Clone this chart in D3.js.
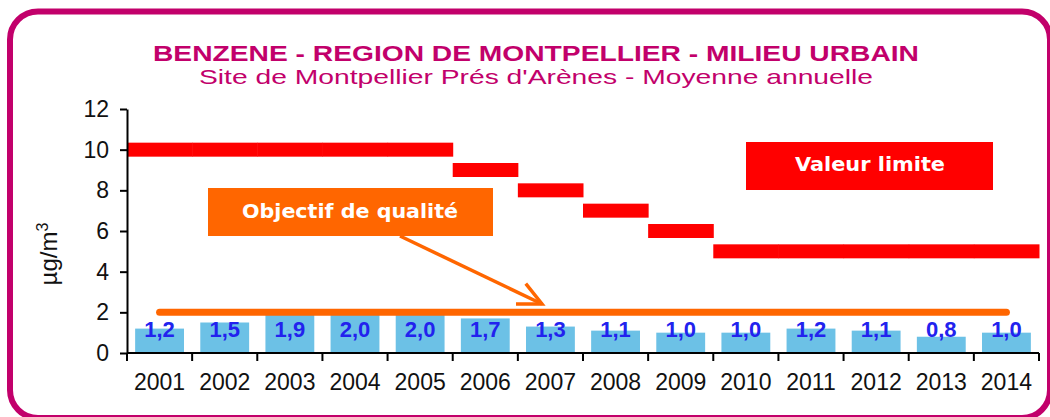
<!DOCTYPE html>
<html>
<head>
<meta charset="utf-8">
<script src="https://cdn.jsdelivr.net/npm/d3@7"></script>
<style>
  html, body { margin: 0; padding: 0; background: #fff; }
  svg { display: block; }
</style>
</head>
<body>
<div id="chart"></div>
<script>
// data
const years = ["2001", "2002", "2003", "2004", "2005", "2006", "2007",
               "2008", "2009", "2010", "2011", "2012", "2013", "2014"];
const benzene = [1.2, 1.5, 1.9, 2.0, 2.0, 1.7, 1.3, 1.1, 1.0, 1.0, 1.2, 1.1, 0.8, 1.0];
const valeurLimite = [10, 10, 10, 10, 10, 9, 8, 7, 6, 5, 5, 5, 5, 5];
const objectifQualite = 2;
const yTicks = [0, 2, 4, 6, 8, 10, 12];

const WIDTH = 1050, HEIGHT = 417;
const MAGENTA = "#c2006b";
const FONT = "'Liberation Sans', Arial, sans-serif";

const svg = d3.select("#chart").append("svg")
  .attr("width", WIDTH)
  .attr("height", HEIGHT);

// rounded frame (partly cut at right and bottom)
svg.append("rect")
  .attr("x", 10).attr("y", 11.5)
  .attr("width", 1040).attr("height", 406.5)
  .attr("rx", 28).attr("ry", 28)
  .attr("fill", "none")
  .attr("stroke", MAGENTA)
  .attr("stroke-width", 6);

// titles
svg.append("text")
  .attr("x", 536).attr("y", 61)
  .attr("text-anchor", "middle")
  .attr("font-family", FONT)
  .attr("font-weight", "bold")
  .attr("font-size", "22px")
  .attr("fill", MAGENTA)
  .attr("textLength", 766)
  .attr("lengthAdjust", "spacingAndGlyphs")
  .text("BENZENE - REGION DE MONTPELLIER - MILIEU URBAIN");

svg.append("text")
  .attr("x", 536).attr("y", 84)
  .attr("text-anchor", "middle")
  .attr("font-family", FONT)
  .attr("font-size", "21px")
  .attr("fill", MAGENTA)
  .attr("textLength", 674)
  .attr("lengthAdjust", "spacingAndGlyphs")
  .text("Site de Montpellier Prés d'Arènes - Moyenne annuelle");

// scales
const x = d3.scaleBand()
  .domain(years)
  .range([127, 1039]);

const y = d3.scaleLinear()
  .domain([0, 12])
  .range([353, 109]);

const fmt = v => d3.format(".1f")(v).replace(".", ",");

// bars
const barW = x.bandwidth() * 0.75;
svg.append("g").selectAll("rect")
  .data(benzene)
  .enter()
  .append("rect")
    .attr("x", (d, i) => x(years[i]) + (x.bandwidth() - barW) / 2)
    .attr("y", d => y(d))
    .attr("width", barW)
    .attr("height", d => y(0) - y(d))
    .attr("fill", "#6cc1e6");

// limit value steps
svg.append("g").selectAll("rect")
  .data(valeurLimite)
  .enter()
  .append("rect")
    .attr("x", (d, i) => x(years[i]))
    .attr("y", d => y(d) - 7)
    .attr("width", x.bandwidth() + 0.5)
    .attr("height", 14)
    .attr("fill", "#ff0000");

// quality objective line
svg.append("line")
  .attr("x1", x(years[0]) + x.bandwidth() / 2)
  .attr("x2", x(years[years.length - 1]) + x.bandwidth() / 2)
  .attr("y1", y(objectifQualite))
  .attr("y2", y(objectifQualite))
  .attr("stroke", "#ff6600")
  .attr("stroke-width", 7)
  .attr("stroke-linecap", "round");

// value labels
svg.append("g").selectAll("text")
  .data(benzene)
  .enter()
  .append("text")
    .attr("x", (d, i) => x(years[i]) + x.bandwidth() / 2)
    .attr("y", y(0) - 16)
    .attr("text-anchor", "middle")
    .attr("font-family", FONT)
    .attr("font-weight", "bold")
    .attr("font-size", "22px")
    .attr("fill", "#2222ee")
    .text(d => fmt(d));

// y axis
const yAxis = svg.append("g")
  .attr("transform", "translate(127,0)")
  .call(d3.axisLeft(y).tickValues(yTicks).tickSize(7).tickSizeOuter(0).tickPadding(11));
yAxis.select(".domain").attr("stroke", "#000").attr("stroke-width", 2);
yAxis.selectAll(".tick line").attr("stroke", "#000").attr("stroke-width", 2);
yAxis.selectAll(".tick text")
  .attr("font-family", FONT)
  .attr("font-size", "23px")
  .attr("fill", "#111");

// x axis: line, boundary ticks, centred labels
const xAxis = svg.append("g");
xAxis.append("line")
  .attr("x1", x.range()[0]).attr("x2", x.range()[1])
  .attr("y1", y(0)).attr("y2", y(0))
  .attr("stroke", "#000").attr("stroke-width", 2);
xAxis.selectAll(".bt")
  .data(years.map(d => x(d)).concat([x.range()[1]]))
  .enter()
  .append("line")
    .attr("x1", d => d).attr("x2", d => d)
    .attr("y1", y(0)).attr("y2", y(0) + 8)
    .attr("stroke", "#000").attr("stroke-width", 2);
xAxis.selectAll(".lbl")
  .data(years)
  .enter()
  .append("text")
    .attr("x", d => x(d) + x.bandwidth() / 2)
    .attr("y", 390)
    .attr("text-anchor", "middle")
    .attr("font-family", FONT)
    .attr("font-size", "23px")
    .attr("fill", "#111")
    .text(d => d);

// y axis title
const yTitle = svg.append("text")
  .attr("transform", "translate(57,254) rotate(-90)")
  .attr("text-anchor", "middle")
  .attr("font-family", FONT)
  .attr("font-size", "24px")
  .attr("fill", "#111");
yTitle.append("tspan").text("µg/m");
yTitle.append("tspan").attr("font-size", "16px").attr("dy", "-9").text("3");

// annotation: Objectif de qualité
svg.append("rect")
  .attr("x", 208).attr("y", 188)
  .attr("width", 285).attr("height", 48)
  .attr("fill", "#ff6600");
svg.append("text")
  .attr("x", 350).attr("y", 218)
  .attr("text-anchor", "middle")
  .attr("font-family", "'DejaVu Sans', Verdana, sans-serif")
  .attr("font-weight", "bold")
  .attr("font-size", "19px")
  .attr("fill", "#fff")
  .attr("textLength", 216)
  .attr("lengthAdjust", "spacingAndGlyphs")
  .text("Objectif de qualité");

// arrow from the box to the objective line
const tip = [542, 304], tail = [400, 236];
const ang = Math.atan2(tail[1] - tip[1], tail[0] - tip[0]);
const arm = 26, spread = 0.45;
svg.append("line")
  .attr("x1", tail[0]).attr("y1", tail[1])
  .attr("x2", tip[0]).attr("y2", tip[1])
  .attr("stroke", "#ff6600").attr("stroke-width", 3.5);
svg.append("path")
  .attr("d", `M${tip[0] + arm * Math.cos(ang + spread)},${tip[1] + arm * Math.sin(ang + spread)}`
    + `L${tip[0]},${tip[1]}`
    + `L${tip[0] + arm * Math.cos(ang - spread)},${tip[1] + arm * Math.sin(ang - spread)}`)
  .attr("fill", "none")
  .attr("stroke", "#ff6600")
  .attr("stroke-width", 3.5)
  .attr("stroke-linejoin", "miter");

// annotation: Valeur limite
svg.append("rect")
  .attr("x", 746).attr("y", 142)
  .attr("width", 247).attr("height", 48)
  .attr("fill", "#ff0000");
svg.append("text")
  .attr("x", 870).attr("y", 171)
  .attr("text-anchor", "middle")
  .attr("font-family", "'DejaVu Sans', Verdana, sans-serif")
  .attr("font-weight", "bold")
  .attr("font-size", "19px")
  .attr("fill", "#fff")
  .attr("textLength", 150)
  .attr("lengthAdjust", "spacingAndGlyphs")
  .text("Valeur limite");
</script>
</body>
</html>
